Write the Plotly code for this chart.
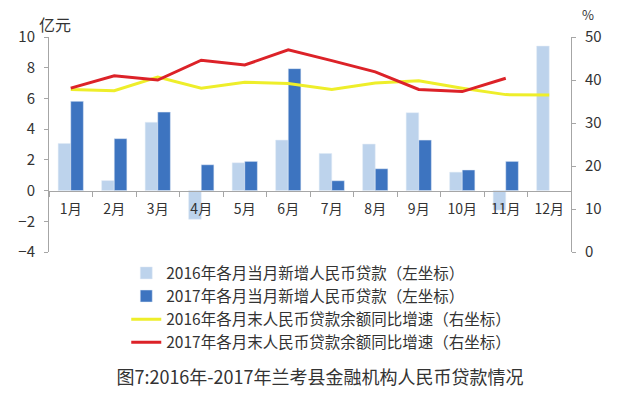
import plotly.graph_objects as go

months = ["1月", "2月", "3月", "4月", "5月", "6月", "7月", "8月", "9月", "10月", "11月", "12月"]
new_loans_2016 = [3.07, 0.65, 4.45, -1.87, 1.81, 3.29, 2.42, 3.03, 5.07, 1.2, -1.27, 9.41]
new_loans_2017 = [5.81, 3.38, 5.11, 1.68, 1.9, 7.94, 0.64, 1.42, 3.29, 1.34, 1.9, None]
growth_2016 = [37.8, 37.5, 40.7, 38.1, 39.5, 39.2, 37.8, 39.3, 39.8, 38.1, 36.6, 36.5]
growth_2017 = [38.1, 41.0, 40.0, 44.6, 43.5, 47.0, 44.5, 41.9, 37.8, 37.3, 40.4, None]

names = [
    "2016年各月当月新增人民币贷款（左坐标）",
    "2017年各月当月新增人民币贷款（左坐标）",
    "2016年各月末人民币贷款余额同比增速（右坐标）",
    "2017年各月末人民币贷款余额同比增速（右坐标）",
]

FONT = "Noto Sans CJK SC"
TXT = "#333333"
AX = "#a6a6a6"

fig = go.Figure()
fig.add_trace(go.Bar(x=months, y=new_loans_2016, name=names[0], marker_color="#bdd3ec",
                     yaxis="y", legendgroup="a"))
fig.add_trace(go.Bar(x=months, y=new_loans_2017, name=names[1], marker_color="#3d74c0",
                     yaxis="y", legendgroup="b"))
fig.add_trace(go.Scatter(x=months, y=growth_2016, name=names[2], mode="lines",
                         line=dict(color="#eeee2a", width=3), yaxis="y2", legendgroup="c"))
fig.add_trace(go.Scatter(x=months, y=growth_2017, name=names[3], mode="lines",
                         line=dict(color="#dc2228", width=3), yaxis="y2", legendgroup="d"))

fig.update_layout(
    width=640, height=393,
    margin=dict(l=49, r=69, t=37, b=141),
    paper_bgcolor="white", plot_bgcolor="white",
    font=dict(family=FONT, color=TXT, size=14),
    barmode="group", bargap=0.42, bargroupgap=0,
    showlegend=True,
    legend=dict(x=0.148, y=-0.02, xanchor="left", yanchor="top", orientation="v",
                font=dict(size=15.5, color=TXT), traceorder="normal",
                itemwidth=30, tracegroupgap=1, bgcolor="rgba(0,0,0,0)"),
    xaxis=dict(anchor="free", position=4/14, showline=True, linecolor=AX, linewidth=1,
               ticks="outside", tickson="boundaries", ticklen=5, tickcolor=AX,
               showgrid=False, tickfont=dict(size=14, color=TXT), ticklabelstandoff=6,
               fixedrange=True),
    yaxis=dict(range=[-4, 10], dtick=2, showline=True, linecolor=AX, linewidth=1,
               ticks="outside", ticklen=4, tickcolor=AX, showgrid=False, zeroline=False,
               tickfont=dict(size=15, color=TXT), ticklabelstandoff=6),
    yaxis2=dict(range=[0, 50], dtick=10, overlaying="y", side="right", showline=True,
                linecolor=AX, linewidth=1, ticks="outside", ticklen=4, tickcolor=AX,
                showgrid=False, zeroline=False, tickfont=dict(size=15, color=TXT),
                ticklabelstandoff=6),
    title=dict(text="图7:2016年-2017年兰考县金融机构人民币贷款情况", x=0.5, xanchor="center",
               y=1 - 378/393, yanchor="middle", yref="container",
               font=dict(size=18, color=TXT, family=FONT)),
    annotations=[
        dict(text="亿元", xref="paper", yref="paper", x=0.012, y=1.06, xanchor="center",
             yanchor="middle", showarrow=False, font=dict(size=16, color=TXT)),
        dict(text="%", xref="paper", yref="paper", x=1.033, y=1.05, xanchor="center",
             yanchor="bottom", showarrow=False, font=dict(size=13, color=TXT)),
    ],
)

# remove the default 8px page margin so the figure fills the window exactly
fig.write_html("out.html", config={"displayModeBar": False},
               post_script="document.body.style.margin='0';")
